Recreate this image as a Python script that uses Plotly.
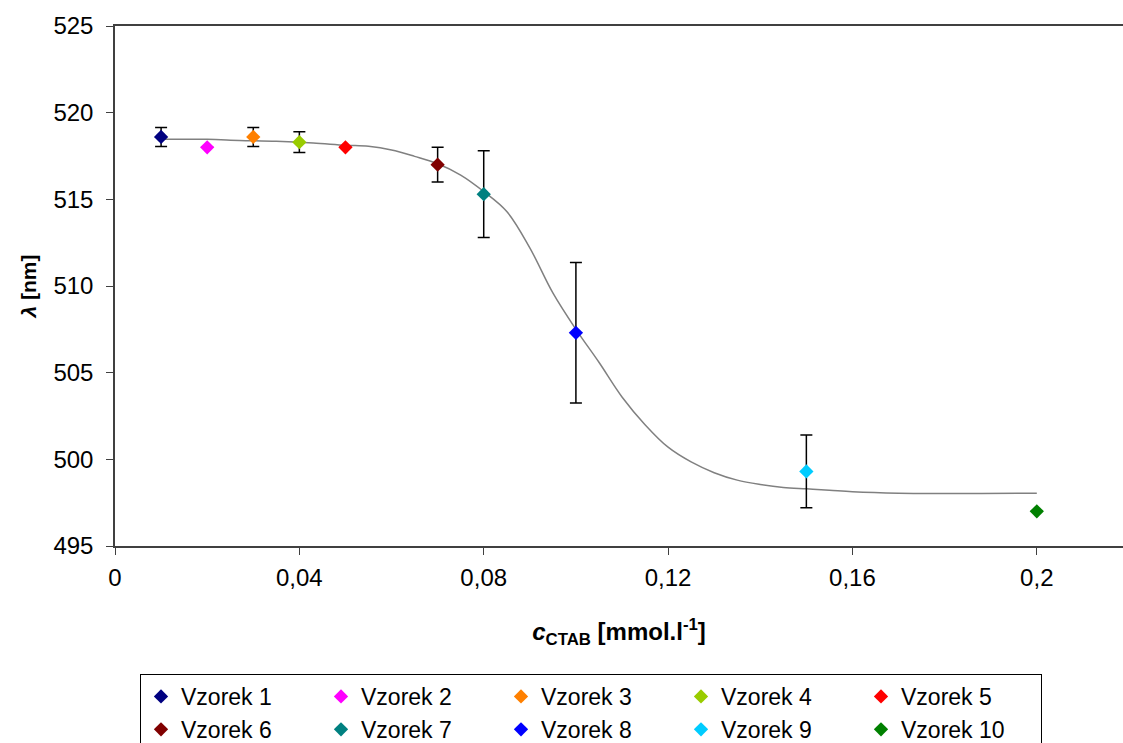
import plotly.graph_objects as go

# Sample data
names = [f"Vzorek {i}" for i in range(1, 11)]
conc = [0.01, 0.02, 0.03, 0.04, 0.05, 0.07, 0.08, 0.10, 0.15, 0.20]
wavelength = [518.6, 518.0, 518.6, 518.3, 518.0, 517.0, 515.3, 507.3, 499.3, 497.0]
err = [0.55, 0.0, 0.55, 0.6, 0.0, 1.0, 2.5, 4.05, 2.1, 0.0]
colors = ["#000080", "#FF00FF", "#FF8000", "#99CC00", "#FF0000",
          "#800000", "#008080", "#0000FF", "#00CCFF", "#008000"]

# Fitted curve
fit_x = [0.01, 0.02, 0.027, 0.035, 0.043, 0.05, 0.055, 0.06, 0.065, 0.07,
         0.075, 0.08, 0.085, 0.09, 0.095, 0.10, 0.105, 0.11, 0.115, 0.12,
         0.125, 0.13, 0.135, 0.14, 0.145, 0.15, 0.155, 0.16, 0.17, 0.20]
fit_y = [518.46, 518.46, 518.40, 518.35, 518.25, 518.12, 518.06, 517.85, 517.48, 517.05,
         516.4, 515.45, 514.3, 512.2, 509.6, 507.5, 505.6, 503.6, 502.0, 500.7,
         499.85, 499.23, 498.8, 498.55, 498.38, 498.3, 498.22, 498.13, 498.05, 498.05]

x_ticks = [0, 0.04, 0.08, 0.12, 0.16, 0.2]
y_ticks = [495, 500, 505, 510, 515, 520, 525]

FONT = "Liberation Sans, Arial, sans-serif"

fig = go.Figure()
fig.add_trace(go.Scatter(x=fit_x, y=fit_y, mode="lines", line=dict(color="#808080", width=1.5, shape="spline"),
                         showlegend=False, hoverinfo="skip"))
for n, x, y, e, c in zip(names, conc, wavelength, err, colors):
    fig.add_trace(go.Scatter(
        x=[x], y=[y], name=n, mode="markers",
        marker=dict(symbol="diamond", size=11, color=c),
        error_y=dict(type="data", array=[e], visible=True, color="black", thickness=1.5, width=6),
    ))

fig.update_layout(
    width=1123, height=743,
    margin=dict(l=115, r=0, t=26, b=197),
    paper_bgcolor="white", plot_bgcolor="white",
    separators=",.",
    font=dict(family=FONT, size=23, color="black"),
    showlegend=True,
    legend=dict(
        orientation="h", xref="container", yref="container",
        x=140 / 1123, y=1 - 674 / 743, xanchor="left", yanchor="top",
        bordercolor="black", borderwidth=1, font=dict(size=23, family=FONT),
        entrywidth=135, traceorder="normal", tracegroupgap=0,
    ),
    xaxis=dict(
        range=[0, 0.2187], tickvals=x_ticks, showgrid=False, zeroline=False,
        showline=True, linecolor="#404040", linewidth=1.5, mirror=True,
        ticks="outside", ticklen=7, tickcolor="#404040",
        tickfont=dict(size=24, family=FONT), ticklabelstandoff=2,
        title=dict(text="<b><i>c</i><sub>CTAB</sub> [mmol.l<sup>-1</sup>]</b>", font=dict(size=24, family=FONT), standoff=34),
    ),
    yaxis=dict(
        range=[495, 525], tickvals=y_ticks, showgrid=False, zeroline=False,
        showline=True, linecolor="#404040", linewidth=1.5,
        ticks="outside", ticklen=7, tickcolor="#404040",
        tickfont=dict(size=24, family=FONT), ticklabelstandoff=8,
        title=dict(text="<b><i>λ</i> [nm]</b>", font=dict(size=21, family=FONT), standoff=11),
    ),
)

fig.write_html("out.html")
